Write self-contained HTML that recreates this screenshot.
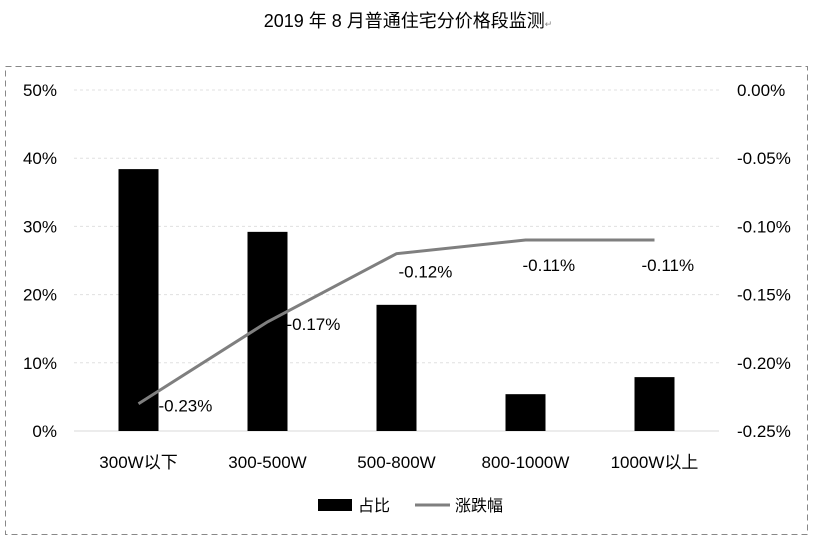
<!DOCTYPE html>
<html><head><meta charset="utf-8">
<style>
body{margin:0;background:#fff;}
svg{display:block;font-family:"Liberation Sans","Noto Sans CJK SC",sans-serif;}
</style></head>
<body>
<svg width="813" height="542" viewBox="0 0 813 542">
<text x="408" y="27" text-anchor="middle" font-size="18" fill="#000">2019 年 8 月普通住宅分价格段监测<tspan font-size="9" fill="#888">↵</tspan></text>
<rect x="5.5" y="66.5" width="802" height="468" fill="none" stroke="#888" stroke-dasharray="6,4"/>
<g id="grid"></g><g id="bars"></g><g id="line"></g><g id="labels"></g>
<g>
<rect x="318" y="499" width="34" height="12" fill="#000"/>
<text x="358" y="511" font-size="16">占比</text>
<line x1="415" y1="505" x2="450" y2="505" stroke="#7f7f7f" stroke-width="3"/>
<text x="455" y="511" font-size="16">涨跌幅</text>
</g>
</svg>
<script>
const categories=["300W以下","300-500W","500-800W","800-1000W","1000W以上"];
const shares=[38.4,29.2,18.5,5.4,7.9];
const changes=[-0.23,-0.17,-0.12,-0.11,-0.11];
const leftTicks=[0,10,20,30,40,50];
const rightTicks=[0,-0.05,-0.10,-0.15,-0.20,-0.25];
const NS="http://www.w3.org/2000/svg";
const yTop=90,yBottom=431,x0=74,x1=719;
const yL=v=>yBottom-(v/50)*(yBottom-yTop);
const yR=v=>yTop+(-v/0.25)*(yBottom-yTop);
const bw=(x1-x0)/categories.length;
const xC=i=>x0+bw*(i+0.5);
function mk(tag,attrs,parent,text){const e=document.createElementNS(NS,tag);for(const k in attrs)e.setAttribute(k,attrs[k]);if(text!==undefined)e.textContent=text;document.getElementById(parent).appendChild(e);return e;}
leftTicks.forEach(t=>{
 const y=yL(t);
 const g=mk("line",{x1:x0,x2:x1,y1:y,y2:y,stroke:t===0?"#d9d9d9":"#e0e0e0","stroke-dasharray":t===0?"none":"3,3"},"grid");
 
 
 const l=mk("text",{x:57,y:y+6,"text-anchor":"end","font-size":17},"grid",t+"%");
 
 
});
rightTicks.forEach(t=>{
 const r=mk("text",{x:737,y:yR(t)+6,"font-size":17},"grid",t.toFixed(2)+"%");
 
 
});
categories.forEach((c,i)=>{
 const b=mk("rect",{x:xC(i)-20,y:yL(shares[i]),width:40,height:yBottom-yL(shares[i]),fill:"#000"},"bars");
 
 
 const t=mk("text",{x:xC(i),y:468,"text-anchor":"middle","font-size":17},"labels",c);
 
 
});
const pts=changes.map((v,i)=>xC(i)+","+yR(v)).join(" ");
const pl=mk("polyline",{points:pts,fill:"none",stroke:"#7f7f7f","stroke-width":3},"line");


const offs=[[20,8],[19,8],[2,24],[-3,31],[-13,31]];
changes.forEach((v,i)=>{
 const t=mk("text",{x:xC(i)+offs[i][0],y:yR(v)+offs[i][1],"font-size":17},"labels",v.toFixed(2)+"%");
 
 
});
</script>
</body></html>
